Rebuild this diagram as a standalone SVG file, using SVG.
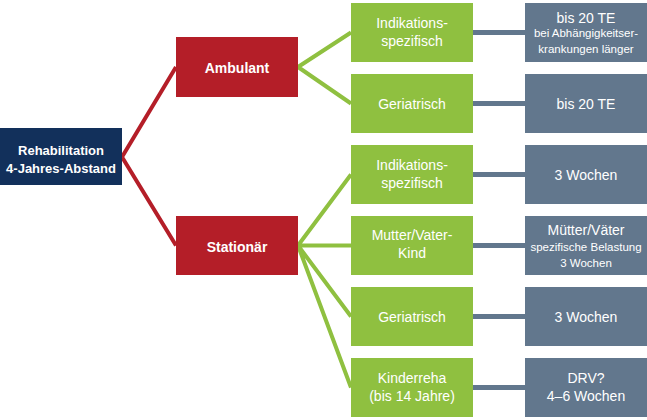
<svg xmlns="http://www.w3.org/2000/svg" width="647" height="420" viewBox="0 0 647 420">
<style>
text{font-family:"Liberation Sans",Arial,sans-serif;fill:#fff;text-anchor:middle}
.b{font-weight:bold}
.m{font-size:14px}
.s{font-size:11.5px}
.navy{fill:#12305b}
.red{fill:#b41e28}
.green{fill:#8fc040}
.gray{fill:#62778d}
.cr{stroke:#b41e28;stroke-width:4;fill:none}
.cg{stroke:#8fc040;stroke-width:4;fill:none}
.cy{stroke:#62778d;stroke-width:5;fill:none}
</style>
<rect width="647" height="420" fill="#fff"/>
<g id="connectors">
<path class="cr" d="M122,157 L176,67 M122,157 L176,245.5"/>
<path class="cg" d="M298,67 L351,32.5 M298,67 L351,103.5"/>
<path class="cg" d="M298,245.5 L351,174.5 M298,245.5 L351,245.5 M298,245.5 L351,316.5 M298,245.5 L351,387.5"/>
<path class="cy" d="M473,32.5H525 M473,103.5H525 M473,174.5H525 M473,245.5H525 M473,316.5H525 M473,387.5H525"/>
</g>
<g id="root">
<rect class="navy" x="0" y="128" width="122" height="57"/>
<text class="b" font-size="13" x="61" y="155">Rehabilitation</text>
<text class="b" font-size="13" x="61" y="173">4-Jahres-Abstand</text>
</g>
<g id="ambulant">
<rect class="red" x="176" y="37" width="122" height="60"/>
<text class="b m" x="237" y="72.5">Ambulant</text>
</g>
<g id="stationaer">
<rect class="red" x="176" y="216" width="122" height="59"/>
<text class="b m" x="237" y="252">Stationär</text>
</g>
<g id="g1">
<rect class="green" x="351" y="3" width="122" height="59"/>
<text class="m" x="412" y="28">Indikations-</text>
<text class="m" x="412" y="46">spezifisch</text>
</g>
<g id="g2">
<rect class="green" x="351" y="74" width="122" height="59"/>
<text class="m" x="412" y="108.5">Geriatrisch</text>
</g>
<g id="g3">
<rect class="green" x="351" y="145" width="122" height="59"/>
<text class="m" x="412" y="170">Indikations-</text>
<text class="m" x="412" y="188">spezifisch</text>
</g>
<g id="g4">
<rect class="green" x="351" y="216" width="122" height="59"/>
<text class="m" x="412" y="240">Mutter/Vater-</text>
<text class="m" x="412" y="258">Kind</text>
</g>
<g id="g5">
<rect class="green" x="351" y="287" width="122" height="59"/>
<text class="m" x="412" y="321.5">Geriatrisch</text>
</g>
<g id="g6">
<rect class="green" x="351" y="358" width="122" height="59"/>
<text class="m" x="412" y="383">Kinderreha</text>
<text class="m" x="412" y="401">(bis 14 Jahre)</text>
</g>
<g id="r1">
<rect class="gray" x="525" y="3" width="122" height="59"/>
<text class="m" x="586" y="23">bis 20 TE</text>
<text class="s" x="586" y="37">bei Abhängigkeitser-</text>
<text class="s" x="586" y="52.5">krankungen länger</text>
</g>
<g id="r2">
<rect class="gray" x="525" y="74" width="122" height="59"/>
<text class="m" x="586" y="108.5">bis 20 TE</text>
</g>
<g id="r3">
<rect class="gray" x="525" y="145" width="122" height="59"/>
<text class="m" x="586" y="180">3 Wochen</text>
</g>
<g id="r4">
<rect class="gray" x="525" y="216" width="122" height="59"/>
<text class="m" x="586" y="235">Mütter/Väter</text>
<text class="s" x="586" y="251">spezifische Belastung</text>
<text class="s" x="586" y="266.5">3 Wochen</text>
</g>
<g id="r5">
<rect class="gray" x="525" y="287" width="122" height="59"/>
<text class="m" x="586" y="321.5">3 Wochen</text>
</g>
<g id="r6">
<rect class="gray" x="525" y="358" width="122" height="59"/>
<text class="m" x="586" y="383">DRV?</text>
<text class="m" x="586" y="401">4–6 Wochen</text>
</g>
</svg>
